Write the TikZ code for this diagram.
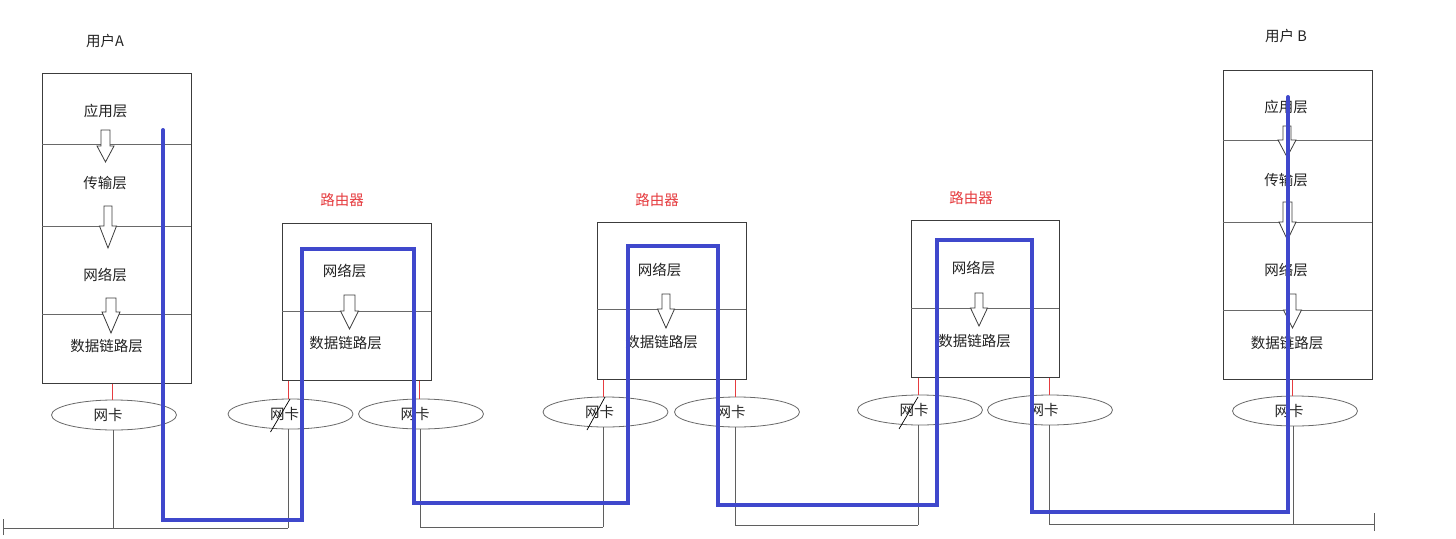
\documentclass[tikz,border=0pt]{standalone}
\usepackage{fontspec}
\newfontfamily\cjk{Noto Sans CJK SC}
\usetikzlibrary{shapes.geometric}
\definecolor{pathblue}{RGB}{63,72,204}
\definecolor{lblred}{RGB}{230,60,64}
\definecolor{boxline}{RGB}{60,60,60}
\definecolor{divline}{RGB}{105,105,105}
\definecolor{wiregray}{RGB}{95,95,95}
\definecolor{txt}{RGB}{35,35,35}
\newcommand\hollowarrow[6]{%
  \draw[harrow] ({#1-#5},#2) -- ({#1+#5},#2) -- ({#1+#5},#3) -- ({#1+#6},#3)
    -- (#1,#4) -- ({#1-#6},#3) -- ({#1-#5},#3) -- cycle;}
\begin{document}
\begin{tikzpicture}[x=1pt,y=-1pt,
  stack/.style={draw=boxline,line width=0.9pt,anchor=north west,inner sep=0pt},
  divider/.style={draw=divline,line width=0.9pt},
  lbl/.style={font=\cjk\fontsize{14.5}{16}\selectfont,text=txt,inner sep=0pt},
  rlbl/.style={font=\cjk\fontsize{14.5}{16}\selectfont,text=lblred,inner sep=0pt},
  nic/.style={ellipse,draw=divline,line width=0.8pt,minimum width=125pt,minimum height=30pt,inner sep=0pt},
  wire/.style={draw=wiregray,line width=0.9pt},
  redw/.style={draw=lblred,line width=0.7pt},
  slant/.style={draw=black,line width=0.7pt},
  harrow/.style={draw=boxline,line width=0.8pt,fill=white},
  route/.style={draw=pathblue,line width=4pt,line cap=round,line join=miter}]
\useasboundingbox (0,0) rectangle (1456,538);
\fill[white] (0,0) rectangle (1456,538);

% ---------- User A ----------
\node[lbl] (tA) at (105,41) {用户A};
\node[stack,minimum width=149pt,minimum height=310pt] (A) at (42,73) {};
\draw[divider] (42,144) -- (191,144);
\draw[divider] (42,226) -- (191,226);
\draw[divider] (42,314) -- (191,314);
\node[lbl] (a1) at (105.5,111) {应用层};
\node[lbl] (a2) at (105,183) {传输层};
\node[lbl] (a3) at (105,275) {网络层};
\node[lbl] (a4) at (106.5,346) {数据链路层};
\hollowarrow{105.5}{130}{146}{162}{4.5}{8.5}
\hollowarrow{108}{206}{226}{248}{4}{8.5}
\hollowarrow{111}{298}{312}{333}{5}{9}
\node[nic] (nA) at (114,415) {};
\node[lbl] at ([xshift=-6pt]nA.center) {网卡};

% ---------- Router 1 ----------
\node[rlbl] (t1) at (342,200) {路由器};
\node[stack,minimum width=149pt,minimum height=157pt] (R1) at (282,223) {};
\draw[divider] (282,311) -- (431,311);
\node[lbl] (r1a) at (344.5,271) {网络层};
\node[lbl] (r1b) at (345.5,343) {数据链路层};
\hollowarrow{349.5}{295}{311}{329}{5.5}{9}
\node[nic] (n1L) at (290.5,414) {};
\node[lbl] at ([xshift=-6pt]n1L.center) {网卡};
\node[nic] (n1R) at (421,414) {};
\node[lbl] at ([xshift=-6pt]n1R.center) {网卡};

% ---------- Router 2 ----------
\node[rlbl] (t2) at (657,200) {路由器};
\node[stack,minimum width=149pt,minimum height=157pt] (R2) at (597,222) {};
\draw[divider] (597,309) -- (746,309);
\node[lbl] (r2a) at (659.5,270) {网络层};
\node[lbl] (r2b) at (661.5,342) {数据链路层};
\hollowarrow{666}{294}{309}{328}{4}{8.5}
\node[nic] (n2L) at (605.5,412) {};
\node[lbl] at ([xshift=-6pt]n2L.center) {网卡};
\node[nic] (n2R) at (737,412) {};
\node[lbl] at ([xshift=-6pt]n2R.center) {网卡};

% ---------- Router 3 ----------
\node[rlbl] (t3) at (971,198) {路由器};
\node[stack,minimum width=148pt,minimum height=157pt] (R3) at (911,220) {};
\draw[divider] (911,308) -- (1059,308);
\node[lbl] (r3a) at (973.5,268) {网络层};
\node[lbl] (r3b) at (974.5,341) {数据链路层};
\hollowarrow{979}{293}{308}{326}{4}{8.5}
\node[nic] (n3L) at (920,410) {};
\node[lbl] at ([xshift=-6pt]n3L.center) {网卡};
\node[nic] (n3R) at (1050,410) {};
\node[lbl] at ([xshift=-6pt]n3R.center) {网卡};

% ---------- User B ----------
\node[lbl] (tB) at (1286,36) {用户 B};
\node[stack,minimum width=149pt,minimum height=309pt] (B) at (1223,70) {};
\draw[divider] (1223,140) -- (1372,140);
\draw[divider] (1223,222) -- (1372,222);
\draw[divider] (1223,310) -- (1372,310);
\node[lbl] (b1) at (1286,107) {应用层};
\node[lbl] (b2) at (1286,180) {传输层};
\node[lbl] (b3) at (1286,270) {网络层};
\node[lbl] (b4) at (1287,343) {数据链路层};
\hollowarrow{1287}{126}{140}{157}{4}{9}
\hollowarrow{1287.5}{202}{222}{240}{4.5}{8.5}
\hollowarrow{1292.5}{294}{310}{328}{3.5}{9}
\node[nic] (nB) at (1295,411) {};
\node[lbl] at ([xshift=-6pt]nB.center) {网卡};

% ---------- red links box -> NIC ----------
\draw[redw] ([xshift=-2pt]nA.north) -- ([xshift=-2pt]nA.north |- A.south);
\draw[redw] ([xshift=-2.5pt]n1L.north) -- ([xshift=-2.5pt]n1L.north |- R1.south);
\draw[redw] ([xshift=-2pt]n1R.north) -- ([xshift=-2pt]n1R.north |- R1.south);
\draw[redw] ([xshift=-2.5pt]n2L.north) -- ([xshift=-2.5pt]n2L.north |- R2.south);
\draw[redw] ([xshift=-2pt]n2R.north) -- ([xshift=-2pt]n2R.north |- R2.south);
\draw[redw] ([xshift=-2pt]n3L.north) -- ([xshift=-2pt]n3L.north |- R3.south);
\draw[redw] ([xshift=-1pt]n3R.north) -- ([xshift=-1pt]n3R.north |- R3.south);
\draw[redw] ([xshift=-3pt]nB.north) -- ([xshift=-3pt]nB.north |- B.south);

% ---------- slanted marks ----------
\draw[slant] ([shift={(-20pt,-18pt)}]n1L.center) -- ([shift={(-0.5pt,15pt)}]n1L.center);
\draw[slant] ([shift={(-18.5pt,-18pt)}]n2L.center) -- ([shift={(-0.5pt,15pt)}]n2L.center);
\draw[slant] ([shift={(-21pt,-19pt)}]n3L.center) -- ([shift={(-2pt,13pt)}]n3L.center);

% ---------- wires and buses ----------
\coordinate (busA) at (113,528);
\coordinate (bus1L) at (288,528);
\coordinate (bus1R) at (420,527);
\coordinate (bus2L) at (603,527);
\coordinate (bus2R) at (735,525);
\coordinate (bus3L) at (918,525);
\coordinate (bus3R) at (1049,524);
\coordinate (busB) at (1293,524);
\coordinate (endL) at (3,528);
\coordinate (endR) at (1374,524);
\draw[wire] (nA.south -| busA) -- (busA);
\draw[wire] (n1L.south -| bus1L) -- (bus1L);
\draw[wire] (n1R.south -| bus1R) -- (bus1R);
\draw[wire] (n2L.south -| bus2L) -- (bus2L);
\draw[wire] (n2R.south -| bus2R) -- (bus2R);
\draw[wire] (n3L.south -| bus3L) -- (bus3L);
\draw[wire] (n3R.south -| bus3R) -- (bus3R);
\draw[wire] (nB.south -| busB) -- (busB);
\draw[wire] (endL) -- (bus1L);
\draw[wire] ([yshift=-7pt]endL) -- ([yshift=9pt]endL);
\draw[wire] (bus1R) -- (bus2L);
\draw[wire] (bus2R) -- (bus3L);
\draw[wire] (bus3R) -- (endR);
\draw[wire] ([yshift=-7pt]endR) -- ([yshift=11pt]endR);

% ---------- blue route ----------
\coordinate (start) at (163,130);
\coordinate (goal) at (1288,97);
\draw[route] (start) -- (163,520) -- (302,520) -- (302,249) -- (414,249)
  -- (414,503) -- (628,503) -- (628,246) -- (718,246) -- (718,505)
  -- (937,505) -- (937,240) -- (1032,240) -- (1032,512) -- (1288,512) -- (goal);
\end{tikzpicture}
\end{document}
